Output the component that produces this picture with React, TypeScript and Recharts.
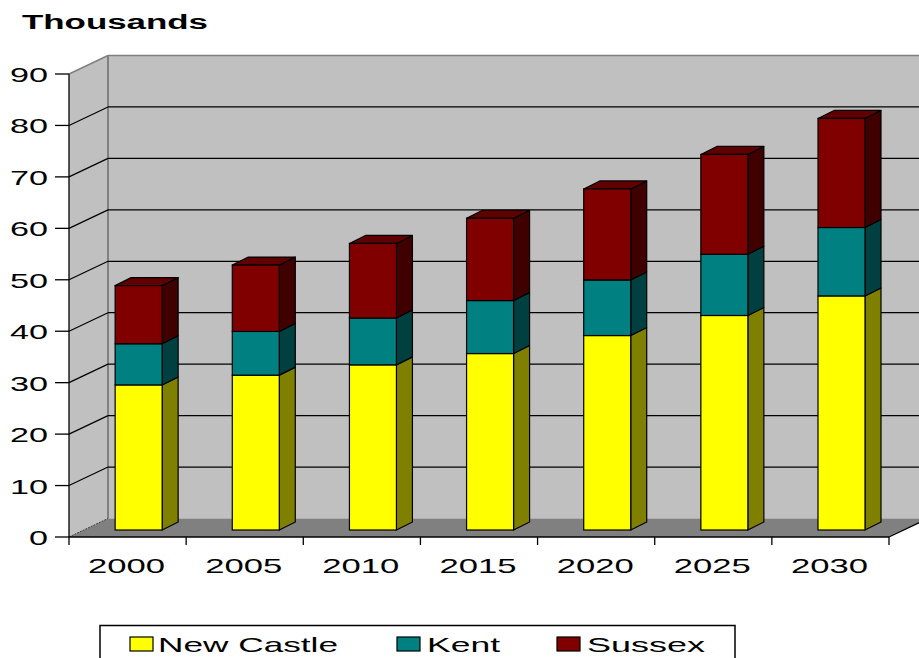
import React from "react";
import { BarChart, Bar, XAxis, YAxis, CartesianGrid } from "recharts";

const years = ["2000", "2005", "2010", "2015", "2020", "2025", "2030"];
const newCastle = [28.2, 30.1, 32.1, 34.3, 37.8, 41.7, 45.5];
const kent = [8.0, 8.5, 9.1, 10.3, 10.8, 11.9, 13.3];
const sussex = [11.3, 12.9, 14.5, 16.0, 17.7, 19.4, 21.2];
const yTicks = [0, 10, 20, 30, 40, 50, 60, 70, 80, 90];

const data = years.map((year, i) => ({
  year,
  newCastle: newCastle[i],
  kent: kent[i],
  sussex: sussex[i],
}));

const W = 919;
const H = 658;
const LEFT = 69;
const TOP = 74;
const RIGHT = 889;
const BOTTOM = 537;
// depth of the 3d walls
const DX = 39;
const DY = -18.5;
// bar placement inside the depth
const BX = 11;
const BY = -7;
const BDX = 16;
const BDY = -8;

const FONT = "'Liberation Sans', Arial, sans-serif";

function box3d(front: string, side: string, top: string | null) {
  return (props: any) => {
    const { x, y, width, height } = props;
    if (!height || height <= 0) return <g />;
    const fx = x + BX;
    const fy = y + BY;
    const sw = 1.2;
    return (
      <g>
        <polygon
          points={`${fx + width},${fy} ${fx + width + BDX},${fy + BDY} ${fx + width + BDX},${fy + height + BDY} ${fx + width},${fy + height}`}
          fill={side} stroke="#000" strokeWidth={sw} strokeLinejoin="round"
        />
        {top && (
          <polygon
            points={`${fx},${fy} ${fx + BDX},${fy + BDY} ${fx + width + BDX},${fy + BDY} ${fx + width},${fy}`}
            fill={top} stroke="#000" strokeWidth={sw} strokeLinejoin="round"
          />
        )}
        <rect x={fx} y={fy} width={width} height={height} fill={front} stroke="#000" strokeWidth={sw} />
      </g>
    );
  };
}

function YTick(props: any) {
  const { x, y, payload } = props;
  const s = String(payload.value);
  return (
    <text x={x} y={y + 8} textAnchor="end" fontFamily={FONT} fontSize={21} fill="#000"
      textLength={s.length * 19} lengthAdjust="spacingAndGlyphs">
      {s}
    </text>
  );
}

function XTick(props: any) {
  const { x, y, payload, index } = props;
  const band = (RIGHT - LEFT) / years.length;
  const axisY = y - 8;
  const s = String(payload.value);
  return (
    <g>
      <line x1={x - band / 2} y1={axisY} x2={x - band / 2} y2={axisY + 8} stroke="#000" strokeWidth={1.3} />
      {index === years.length - 1 && (
        <line x1={x + band / 2} y1={axisY} x2={x + band / 2} y2={axisY + 8} stroke="#000" strokeWidth={1.3} />
      )}
      <text x={x - 1} y={axisY + 36} textAnchor="middle" fontFamily={FONT} fontSize={21} fill="#000"
        textLength={77} lengthAdjust="spacingAndGlyphs">
        {s}
      </text>
    </g>
  );
}

function gridLine(p: any) {
  const y = p.y1;
  if (Math.abs(y - TOP) < 1 || Math.abs(y - BOTTOM) < 1) return <g key={p.key} />;
  return (
    <g key={p.key}>
      <line x1={p.x1} y1={y} x2={p.x1 + DX} y2={y + DY} stroke="#000" strokeWidth={1.2} />
      <line x1={p.x1 + DX} y1={y + DY} x2={p.x2 + DX} y2={y + DY} stroke="#000" strokeWidth={1.2} />
    </g>
  );
}

export default function App() {
  return (
    <div style={{ position: "relative", width: W, height: H, overflow: "hidden" }}>
      <style>{`body{margin:0;overflow:hidden;}`}</style>
      {/* walls and floor */}
      <svg width={W} height={H} style={{ position: "absolute", left: 0, top: 0 }}>
        <polygon points={`${LEFT},${TOP} ${LEFT + DX},${TOP + DY} ${LEFT + DX},${BOTTOM + DY} ${LEFT},${BOTTOM}`} fill="#c0c0c0" />
        <rect x={LEFT + DX} y={TOP + DY} width={RIGHT - LEFT + 10} height={BOTTOM - TOP} fill="#c0c0c0" />
        <polygon points={`${LEFT},${BOTTOM} ${LEFT + DX},${BOTTOM + DY} ${RIGHT + DX},${BOTTOM + DY} ${RIGHT},${BOTTOM}`} fill="#808080" />
        <line x1={LEFT} y1={TOP} x2={LEFT + DX} y2={TOP + DY} stroke="#808080" strokeWidth={1.5} />
        <line x1={LEFT + DX} y1={TOP + DY} x2={W} y2={TOP + DY} stroke="#808080" strokeWidth={1.5} />
        <line x1={LEFT + DX} y1={TOP + DY} x2={LEFT + DX} y2={BOTTOM + DY} stroke="#808080" strokeWidth={2} />
        <line x1={LEFT} y1={BOTTOM} x2={LEFT + DX} y2={BOTTOM + DY} stroke="#404040" strokeWidth={1} strokeDasharray="2 1" />
        <line x1={RIGHT} y1={BOTTOM} x2={RIGHT + DX} y2={BOTTOM + DY} stroke="#000" strokeWidth={1.2} />
      </svg>
      <div style={{ position: "absolute", left: 0, top: 0 }}>
        <BarChart width={W} height={H} data={data} barCategoryGap="30%"
          margin={{ top: TOP, right: W - RIGHT, left: 0, bottom: 0 }}>
          <CartesianGrid horizontal={gridLine} vertical={false} />
          <XAxis dataKey="year" height={H - BOTTOM} axisLine={{ stroke: "#000", strokeWidth: 1.3 }}
            tickLine={false} tickSize={8} tickMargin={0} tick={<XTick />} interval={0} />
          <YAxis domain={[0, 90]} ticks={yTicks} width={LEFT} axisLine={{ stroke: "#000", strokeWidth: 1.3 }}
            tickLine={{ stroke: "#000", strokeWidth: 1.3 }} tickSize={14} tickMargin={7} tick={<YTick />}
            interval={0} allowDataOverflow />
          <Bar dataKey="newCastle" stackId="a" fill="#ffff00" shape={box3d("#ffff00", "#808000", null)} isAnimationActive={false} />
          <Bar dataKey="kent" stackId="a" fill="#008080" shape={box3d("#008080", "#004040", null)} isAnimationActive={false} />
          <Bar dataKey="sussex" stackId="a" fill="#800000" shape={box3d("#800000", "#400000", "#600000")} isAnimationActive={false} />
        </BarChart>
      </div>
      {/* title and legend */}
      <svg width={W} height={H} style={{ position: "absolute", left: 0, top: 0, pointerEvents: "none" }}>
        <text x={22} y={29} fontFamily={FONT} fontSize={20} fontWeight="bold" fill="#000"
          textLength={186} lengthAdjust="spacingAndGlyphs">Thousands</text>
        <path d={`M100,${H} L100,625.5 L735,625.5 L735,${H}`} fill="none" stroke="#000" strokeWidth={1.5} />
        <rect x={130} y={637} width={23} height={14} fill="#ffff00" stroke="#000" strokeWidth={1.2} />
        <text x={158} y={652} fontFamily={FONT} fontSize={21} fill="#000" textLength={180} lengthAdjust="spacingAndGlyphs">New Castle</text>
        <rect x={397} y={637} width={23} height={14} fill="#008080" stroke="#000" strokeWidth={1.2} />
        <text x={427} y={652} fontFamily={FONT} fontSize={21} fill="#000" textLength={73} lengthAdjust="spacingAndGlyphs">Kent</text>
        <rect x={557} y={637} width={23} height={14} fill="#800000" stroke="#000" strokeWidth={1.2} />
        <text x={587} y={652} fontFamily={FONT} fontSize={21} fill="#000" textLength={118} lengthAdjust="spacingAndGlyphs">Sussex</text>
      </svg>
    </div>
  );
}
